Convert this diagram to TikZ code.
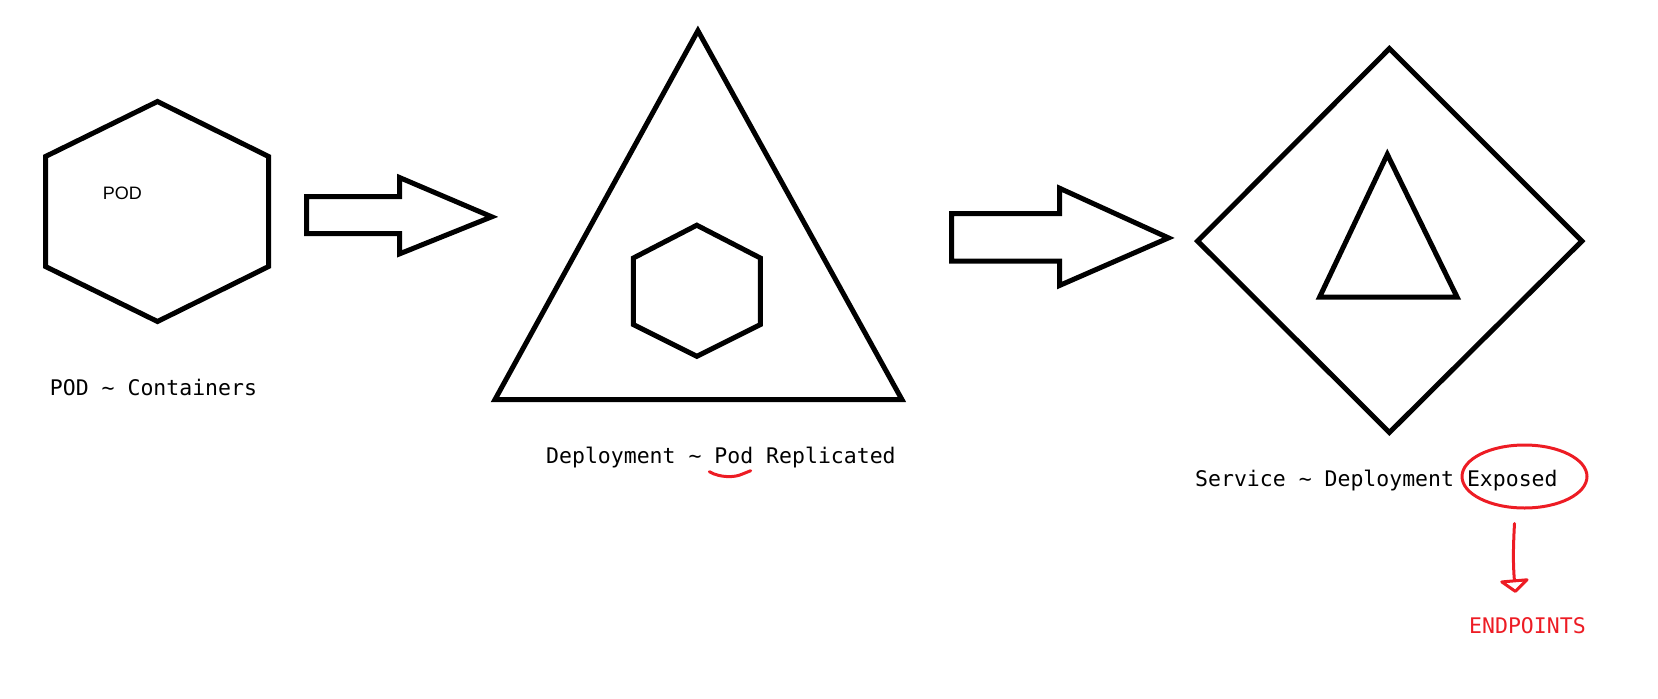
\documentclass[tikz,border=0pt]{standalone}
\usepackage{fontspec}
\usepackage{tikz}
\usetikzlibrary{arrows.meta}
\usetikzlibrary{shapes.geometric}
\newfontfamily\labelfont{DejaVu Sans Mono}
\newfontfamily\podfont{Liberation Sans}
\definecolor{paintred}{RGB}{237,28,36}

\begin{document}
\begin{tikzpicture}[x=1pt,y=-1pt,
  outline/.style={draw=black,line width=5pt},
  redpen/.style={draw=paintred,line width=3pt,line cap=round,line join=round},
  caption/.style={anchor=base west,inner sep=0pt,font=\labelfont\fontsize{21.5}{24}\selectfont}]
\useasboundingbox (0,0) rectangle (1658,699);
%pod
\draw[outline] (157.5,101.5)--(268.6,156.5)--(268.6,266.5)--(157.5,321.5)--(45.5,266.5)--(45.5,156.5)--cycle;
\draw[outline] (306.6,196.7)--(399.7,196.7)--(399.7,177.6)--(491.7,216.8)--(399.7,253.8)--(399.7,233.7)--(306.6,233.7)--cycle;
%deployment
\draw[outline] (697.9,30.7)--(902,399.7)--(494.9,399.7)--cycle;
\draw[outline] (696.8,225.2)--(760.3,258)--(760.3,324.6)--(696.8,356.3)--(633.4,324.6)--(633.4,258)--cycle;
\draw[outline] (951.7,213.6)--(1059.5,213.6)--(1059.5,188.2)--(1168.5,237.9)--(1059.5,285.5)--(1059.5,261.2)--(951.7,261.2)--cycle;
%service
\draw[outline] (1389.4,48.6)--(1581.9,241.1)--(1389.4,432.5)--(1197.6,241.1)--cycle;
\draw[outline] (1387.3,154.4)--(1457.1,297.1)--(1319.6,297.1)--cycle;

\path (102.7,199) node(p)[anchor=base west,inner sep=0pt,font=\podfont\fontsize{18}{20}\selectfont]{POD}
(49.7,395) node(pc)[caption]{POD \textasciitilde{} Containers}
(546,463.3) node(dp)[caption]{Deployment \textasciitilde{} Pod Replicated}
(1195,486) node(sd)[caption]{Service \textasciitilde{} Deployment Exposed}
(1524.5,476.5) node(ex)[ellipse,redpen,minimum width=125pt,minimum height=63pt]{}
(1469,633) node(ep)[caption,text=paintred]{ENDPOINTS};
\draw[redpen] (709.3,471.7) .. controls (720,478) and (735,477.5) .. (741.7,474.3)--(750.7,470.7);
\draw[redpen,-{Triangle[open,width=33pt 0,length=14pt 0,round]}] ([xshift=-10pt,yshift=-14pt]ex.south) to[bend right=4] ([xshift=-12pt,yshift=24pt]ep.north);
\end{tikzpicture}
\end{document}
